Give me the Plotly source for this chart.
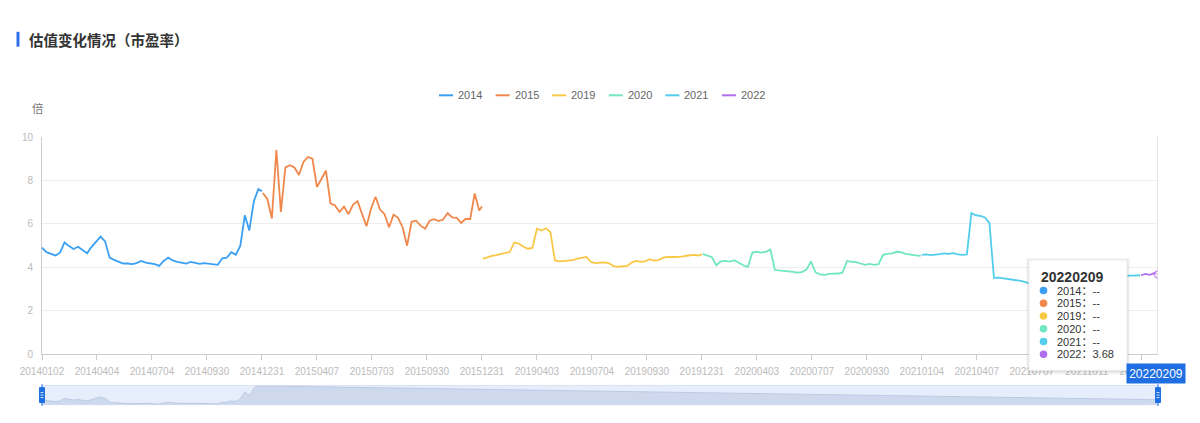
import plotly.graph_objects as go

# ---------------- layout geometry (pixels) ----------------
W, H = 1200, 423
ML, MR, MT, MB = 42, 42, 137, 16
PW, PH = W - ML - MR, H - MT - MB


def px(xp):
    return (xp - ML) / PW


def py(yp):
    return (H - MB - yp) / PH


# ---------------- data ----------------
series_names = ["2014", "2015", "2019", "2020", "2021", "2022"]
series_colors = ["#3b9ff3", "#f0874b", "#f9c846", "#70e6c2", "#53cdec", "#b06ef0"]
trading_days = [245, 244, 244, 243, 243, 20]   # categories (trading days) per series
STEP = 5                                         # values read every 5 trading days

pe_2014 = [4.91, 4.70, 4.62, 4.55, 4.68, 5.15, 4.98, 4.85, 4.95, 4.80,
           4.65, 4.95, 5.20, 5.42, 5.20, 4.45, 4.35, 4.25, 4.18, 4.18,
           4.15, 4.20, 4.30, 4.22, 4.19, 4.15, 4.07, 4.30, 4.45, 4.32,
           4.26, 4.22, 4.18, 4.25, 4.20, 4.16, 4.20, 4.18, 4.15, 4.12,
           4.42, 4.45, 4.70, 4.58, 5.00, 6.40, 5.70, 7.05, 7.60, 7.50]
pe_2015 = [7.42, 7.15, 6.25, 9.40, 6.55, 8.60, 8.70, 8.60, 8.25, 8.85,
           9.08, 9.00, 7.70, 8.10, 8.45, 6.95, 6.85, 6.55, 6.80, 6.45,
           6.88, 7.05, 6.50, 5.90, 6.70, 7.25, 6.66, 6.45, 5.85, 6.43,
           6.28, 5.85, 5.00, 6.10, 6.15, 5.92, 5.78, 6.15, 6.22, 6.13,
           6.20, 6.50, 6.30, 6.28, 6.05, 6.24, 6.22, 7.40, 6.62, 6.80]
pe_2019 = [4.39, 4.47, 4.53, 4.57, 4.61, 4.66, 4.72, 5.15, 5.10, 4.95,
           4.86, 4.90, 5.78, 5.70, 5.80, 5.62, 4.32, 4.28, 4.30, 4.31,
           4.34, 4.40, 4.44, 4.48, 4.25, 4.20, 4.22, 4.23, 4.19, 4.06,
           4.03, 4.05, 4.07, 4.22, 4.30, 4.26, 4.28, 4.38, 4.31, 4.34,
           4.45, 4.48, 4.47, 4.48, 4.50, 4.54, 4.56, 4.58, 4.55, 4.61]
pe_2020 = [4.61, 4.55, 4.48, 4.10, 4.28, 4.30, 4.27, 4.33, 4.20, 4.10,
           4.02, 4.68, 4.72, 4.68, 4.72, 4.82, 3.88, 3.85, 3.83, 3.82,
           3.80, 3.76, 3.78, 3.90, 4.28, 3.78, 3.68, 3.66, 3.70, 3.70,
           3.72, 3.76, 4.30, 4.26, 4.24, 4.18, 4.12, 4.16, 4.12, 4.15,
           4.58, 4.62, 4.65, 4.72, 4.70, 4.62, 4.58, 4.54, 4.53, 4.55]
pe_2021 = [4.58, 4.60, 4.57, 4.58, 4.61, 4.65, 4.62, 4.66, 4.60, 4.58,
           4.60, 6.50, 6.40, 6.37, 6.30, 6.05, 3.52, 3.53, 3.50, 3.48,
           3.47, 3.44, 3.38, 3.32, 3.26, 3.27, 3.28, 3.30, 3.30, 3.32,
           3.35, 3.34, 3.38, 3.40, 3.42, 3.40, 3.45, 3.48, 3.50, 3.52,
           3.50, 3.55, 3.57, 3.58, 3.60, 3.61, 3.62, 3.62, 3.63, 3.64]
pe_2022 = [3.64, 3.70, 3.66, 3.74, 3.68]

series_values = [pe_2014, pe_2015, pe_2019, pe_2020, pe_2021, pe_2022]

x_tick_labels = ["20140102", "20140404", "20140704", "20140930", "20141231",
                 "20150407", "20150703", "20150930", "20151231", "20190403",
                 "20190704", "20190930", "20191231", "20200403", "20200707",
                 "20200930", "20210104", "20210407", "20210707", "20211011",
                 "20220105"]
LABEL_INTERVAL = 61
last_date = "20220209"
y_ticks = [0, 2, 4, 6, 8, 10]

# ---------------- derived category indices ----------------
starts = []
acc = 0
for n in trading_days:
    starts.append(acc)
    acc += n
x_last = acc - 1


def sample_index(start, ndays, nvals):
    idx = [start + STEP * k for k in range(nvals - 1)]
    idx.append(start + ndays - 1)
    return idx


FONT = "Liberation Sans, Noto Sans CJK SC, sans-serif"
CJK = "Noto Sans CJK SC, sans-serif"

fig = go.Figure()

# ---------------- main lines ----------------
for i, (name, color, vals) in enumerate(zip(series_names, series_colors, series_values)):
    xs = sample_index(starts[i], trading_days[i], len(vals))
    is_last = i == len(series_names) - 1
    sizes = [0] * (len(vals) - 1) + [7] if is_last else None
    fig.add_trace(go.Scatter(
        x=xs, y=vals, name=name, mode="lines+markers" if is_last else "lines",
        line=dict(color=color, width=1.8),
        marker=dict(size=sizes, color="white", line=dict(color=color, width=1.5)) if is_last else None,
        xaxis="x", yaxis="y", hoverinfo="skip", showlegend=False,
    ))

# ---------------- data zoom shadow (first series) ----------------
shadow_x = sample_index(starts[0], trading_days[0], len(pe_2014)) + [x_last]
shadow_y = pe_2014 + [pe_2014[0]]
fig.add_trace(go.Scatter(
    x=shadow_x, y=shadow_y, mode="lines", fill="tozeroy",
    line=dict(color="#bccae4", width=1), fillcolor="#cfd9ee",
    xaxis="x2", yaxis="y2", hoverinfo="skip", showlegend=False,
))

shapes = []
annotations = []

# title bar + title
shapes.append(dict(type="rect", xref="paper", yref="paper",
                   x0=px(16.5), x1=px(19.5), y0=py(46), y1=py(31),
                   fillcolor="#2f6fea", line=dict(width=0)))
annotations.append(dict(text="<b>估值变化情况（市盈率）</b>", xref="paper", yref="paper",
                        x=px(27), y=py(38.5), xanchor="left", yanchor="middle",
                        showarrow=False, font=dict(family=CJK, size=14.5, color="#333333")))

# legend (manual, compact like the reference)
LEG_PITCH = 56.6
LEG_ICON = 14
leg_x0 = 439
for i, (name, color) in enumerate(zip(series_names, series_colors)):
    x0 = leg_x0 + i * LEG_PITCH
    shapes.append(dict(type="line", xref="paper", yref="paper",
                       x0=px(x0), x1=px(x0 + LEG_ICON), y0=py(95), y1=py(95),
                       line=dict(color=color, width=2)))
    annotations.append(dict(text=name, xref="paper", yref="paper",
                            x=px(x0 + LEG_ICON + 3), y=py(95), xanchor="left", yanchor="middle",
                            showarrow=False, font=dict(family=FONT, size=11, color="#666666")))

# y axis unit
annotations.append(dict(text="倍", xref="paper", yref="paper", x=px(38), y=py(107.5),
                        xanchor="center", yanchor="middle", showarrow=False,
                        font=dict(family=CJK, size=11.5, color="#777777")))

# axis pointer line
shapes.append(dict(type="line", xref="x", yref="y domain", x0=x_last, x1=x_last, y0=0, y1=1,
                   line=dict(color="#cccccc", width=1)))

# axis pointer label
annotations.append(dict(text=last_date, xref="x", yref="paper", x=x_last, xshift=-2,
                        y=py(375.5), xanchor="center", yanchor="middle", showarrow=False,
                        bgcolor="#1f6fe3", borderpad=2, width=54, height=15,
                        font=dict(family=FONT, size=12, color="white")))

# data zoom frame + handles
shapes.append(dict(type="rect", xref="paper", yref="paper", layer="below",
                   x0=px(42), x1=px(1158), y0=py(406.7), y1=py(387.3),
                   fillcolor="#e6edfb", line=dict(color="#d8e1f3", width=1)))
for hx in (42, 1158):
    shapes.append(dict(type="line", xref="paper", yref="paper",
                       x0=px(hx), x1=px(hx), y0=py(408), y1=py(386),
                       line=dict(color="#1f6fe3", width=1)))
    shapes.append(dict(type="rect", xref="paper", yref="paper",
                       x0=px(hx - 2.5), x1=px(hx + 2.5), y0=py(404.5), y1=py(389.5),
                       fillcolor="#1f6fe3", line=dict(color="#1f6fe3", width=1)))
    for gy in (394.5, 397, 399.5):
        shapes.append(dict(type="line", xref="paper", yref="paper",
                           x0=px(hx - 1.5), x1=px(hx + 1.5), y0=py(gy), y1=py(gy),
                           line=dict(color="#ffffff", width=0.8)))

# tooltip box
TB_X0, TB_X1, TB_Y0, TB_Y1 = 1029, 1127, 261, 372
for grow, alpha in ((3, 0.03), (2, 0.04), (1, 0.06)):
    shapes.append(dict(type="rect", xref="paper", yref="paper",
                       x0=px(TB_X0 - grow), x1=px(TB_X1 + grow),
                       y0=py(TB_Y1 + grow + 1), y1=py(TB_Y0 - grow + 1),
                       fillcolor=f"rgba(0,0,0,{alpha})", line=dict(width=0)))
shapes.append(dict(type="rect", xref="paper", yref="paper",
                   x0=px(TB_X0), x1=px(TB_X1), y0=py(TB_Y1), y1=py(TB_Y0),
                   fillcolor="white", line=dict(color="#eeeeee", width=1)))
annotations.append(dict(text=f"<b>{last_date}</b>", xref="paper", yref="paper",
                        x=px(1039), y=py(278.5), xanchor="left", yanchor="middle",
                        showarrow=False, font=dict(family=FONT, size=14, color="#333333")))
row_y0, row_dy = 291.7, 12.85
DOT_R = 3.8
for i, (name, color, vals) in enumerate(zip(series_names, series_colors, series_values)):
    ry = row_y0 + i * row_dy
    is_last = i == len(series_names) - 1
    val_txt = f"{vals[-1]:.2f}" if is_last else "--"
    shapes.append(dict(type="circle", xref="paper", yref="paper",
                       x0=px(1043.5 - DOT_R), x1=px(1043.5 + DOT_R),
                       y0=py(ry + DOT_R), y1=py(ry - DOT_R),
                       fillcolor=color, line=dict(width=0)))
    annotations.append(dict(text=f"{name}：{val_txt}", xref="paper", yref="paper",
                            x=px(1055), y=py(ry), xanchor="left", yanchor="middle",
                            showarrow=False, font=dict(family=FONT, size=11, color="#333333")))

fig.update_layout(
    width=W, height=H,
    margin=dict(l=ML, r=MR, t=MT, b=MB, pad=0),
    paper_bgcolor="white", plot_bgcolor="white",
    hovermode=False, showlegend=False,
    font=dict(family=FONT),
    xaxis=dict(domain=[0, 1], range=[0, x_last], anchor="y",
               tickmode="array",
               tickvals=[k * LABEL_INTERVAL for k in range(len(x_tick_labels))],
               ticktext=x_tick_labels,
               showgrid=False, zeroline=False, showline=True, linecolor="#cccccc", linewidth=1,
               ticks="outside", ticklen=5, tickcolor="#cccccc", tickwidth=1,
               ticklabelstandoff=3,
               tickfont=dict(family=FONT, size=10, color="#bbbbbb")),
    yaxis=dict(domain=[py(356), 1], range=[0, 10], anchor="x",
               tickmode="array", tickvals=y_ticks,
               showgrid=True, gridcolor="#eeeeee", gridwidth=1,
               zeroline=False, showline=True, linecolor="#cccccc", linewidth=1,
               ticks="", ticklabelstandoff=6,
               tickfont=dict(family=FONT, size=10, color="#bbbbbb")),
    xaxis2=dict(domain=[0, 1], range=[0, x_last], anchor="y2", visible=False),
    yaxis2=dict(domain=[py(406.7), py(387.3)],
                range=[min(pe_2014) - 0.1, max(pe_2014)], anchor="x2", visible=False),
    shapes=shapes,
    annotations=annotations,
)

fig.write_html("out.html")
